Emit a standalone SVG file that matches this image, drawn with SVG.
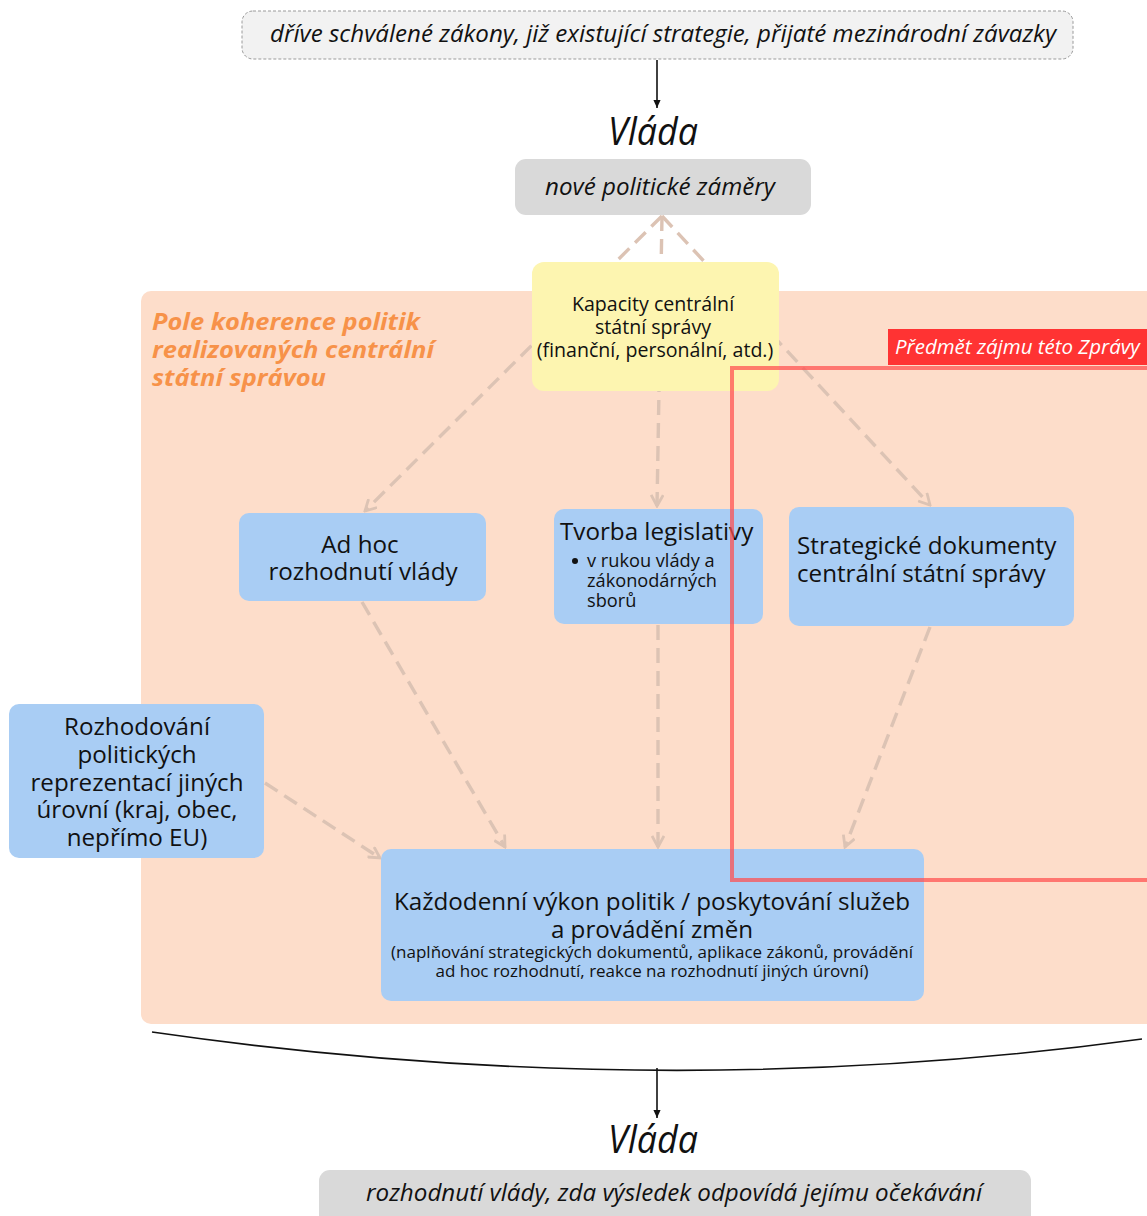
<svg xmlns="http://www.w3.org/2000/svg" width="1147" height="1216" viewBox="0 0 1147 1216">
<defs>
<style>
text{font-family:"Open Sans","Noto Sans","DejaVu Sans",sans-serif;fill:#111}
.it{font-style:italic}
.c{text-anchor:middle}
.blue{fill:#a9cdf4}
.t24{font-size:24.2px}
.t18{font-size:18.2px}
.t19{font-size:19.6px}
.t16{font-size:17px}
.dash{fill:none;stroke:#dcc3b4;stroke-width:3.4;stroke-dasharray:15 8}
.blk{fill:none;stroke:#111;stroke-width:1.6}
</style>
<marker id="ah" viewBox="0 0 14 14" refX="12" refY="7" markerWidth="14" markerHeight="14" markerUnits="userSpaceOnUse" orient="auto">
<path d="M1,1 L12,7 L1,13" fill="none" stroke="#dcc3b4" stroke-width="2.8"/>
</marker>
<marker id="bh" viewBox="0 0 10 10" refX="9" refY="5" markerWidth="9" markerHeight="9" markerUnits="userSpaceOnUse" orient="auto">
<path d="M0,1 L9,5 L0,9 Z" fill="#111"/>
</marker>
</defs>

<rect x="0" y="0" width="1147" height="1216" fill="#fff"/>

<g id="field">
<rect x="141" y="291" width="1020" height="733" rx="10" fill="#fdddca"/>
<text class="it" font-weight="bold" font-size="24" style="fill:#f79249">
<tspan x="152" y="330" textLength="268" lengthAdjust="spacingAndGlyphs">Pole koherence politik</tspan>
<tspan x="152" y="358" textLength="282" lengthAdjust="spacingAndGlyphs">realizovaných centrální</tspan>
<tspan x="152" y="386" textLength="174" lengthAdjust="spacingAndGlyphs">státní správou</tspan>
</text>
</g>

<g id="connectors">
<line class="blk" x1="657" y1="60" x2="657" y2="108" marker-end="url(#bh)"/>
<path class="dash" d="M662,216 L365,511" marker-end="url(#ah)"/>
<path class="dash" d="M662,216 L657,506" marker-end="url(#ah)"/>
<path class="dash" d="M662,216 L930,505" marker-end="url(#ah)"/>
<path class="dash" d="M362,602 L505,847" marker-end="url(#ah)"/>
<path class="dash" d="M658,625 L658,847" marker-end="url(#ah)"/>
<path class="dash" d="M930,627 L845,847" marker-end="url(#ah)"/>
<path class="dash" d="M265,783 L380,858" marker-end="url(#ah)"/>
<path class="blk" d="M152,1032 Q657,1105 1142,1039"/>
<line class="blk" x1="657" y1="1068" x2="657" y2="1118" marker-end="url(#bh)"/>
</g>

<g id="prior">
<rect x="242" y="11" width="831" height="48" rx="11" fill="#f2f2f2" stroke="#9a9a9a" stroke-width="1" stroke-dasharray="3 2"/>
<text class="it c" x="663" y="42" font-size="24" textLength="786" lengthAdjust="spacingAndGlyphs">dříve schválené zákony, již existující strategie, přijaté mezinárodní závazky</text>
</g>

<g id="vlada-top">
<text class="it c" x="653" y="145" font-size="38" textLength="90" lengthAdjust="spacingAndGlyphs">Vláda</text>
</g>

<g id="zamery">
<rect x="515" y="159" width="296" height="56" rx="11" fill="#d9d9d9"/>
<text class="it c" x="660" y="195" font-size="24" textLength="230" lengthAdjust="spacingAndGlyphs">nové politické záměry</text>
</g>

<g id="kapacity">
<rect x="532" y="262" width="247" height="129" rx="12" fill="#fdf5b0"/>
<text class="c t19" x="653" y="311">Kapacity centrální</text>
<text class="c t19" x="653" y="334">státní správy</text>
<text class="c t19" x="655" y="357">(finanční, personální, atd.)</text>
</g>

<g id="adhoc">
<rect class="blue" x="239" y="513" width="247" height="88" rx="10"/>
<text class="c t24" x="360" y="553">Ad hoc</text>
<text class="c t24" x="363" y="580">rozhodnutí vlády</text>
</g>

<g id="tvorba">
<rect class="blue" x="554" y="509" width="209" height="115" rx="10"/>
<text class="t24" x="560" y="540">Tvorba legislativy</text>
<circle cx="575" cy="561" r="3" fill="#111"/>
<text class="t18" x="587" y="567">v rukou vlády a</text>
<text class="t18" x="587" y="587">zákonodárných</text>
<text class="t18" x="587" y="607">sborů</text>
</g>

<g id="strategicke">
<rect class="blue" x="789" y="507" width="285" height="119" rx="10"/>
<text class="t24" x="797" y="554">Strategické dokumenty</text>
<text class="t24" x="797" y="582">centrální státní správy</text>
</g>

<g id="rozhodovani">
<rect class="blue" x="9" y="704" width="255" height="154" rx="10"/>
<text class="c t24" x="137" y="735">Rozhodování</text>
<text class="c t24" x="137" y="763">politických</text>
<text class="c t24" x="137" y="791">reprezentací jiných</text>
<text class="c t24" x="137" y="818">úrovní (kraj, obec,</text>
<text class="c t24" x="137" y="846">nepřímo EU)</text>
</g>

<g id="kazdodenni">
<rect class="blue" x="381" y="849" width="543" height="152" rx="10"/>
<text class="c t24" x="652" y="910">Každodenní výkon politik / poskytování služeb</text>
<text class="c t24" x="652" y="938">a provádění změn</text>
<text class="c t16" x="652" y="958">(naplňování strategických dokumentů, aplikace zákonů, provádění</text>
<text class="c t16" x="652" y="977">ad hoc rozhodnutí, reakce na rozhodnutí jiných úrovní)</text>
</g>

<g id="predmet">
<rect x="888" y="329" width="270" height="36" fill="#ff3333"/>
<text class="it" x="895" y="354" font-size="20.5" style="fill:#fff">Předmět zájmu této Zprávy</text>
<rect x="732" y="368" width="440" height="512" fill="none" stroke="#ff4d4d" stroke-opacity="0.72" stroke-width="4"/>
</g>

<g id="vlada-bottom">
<text class="it c" x="653" y="1153" font-size="38" textLength="90" lengthAdjust="spacingAndGlyphs">Vláda</text>
</g>

<g id="rozhodnuti">
<rect x="319" y="1170" width="712" height="60" rx="11" fill="#d9d9d9"/>
<text class="it c" x="674" y="1201" font-size="24" textLength="616" lengthAdjust="spacingAndGlyphs">rozhodnutí vlády, zda výsledek odpovídá jejímu očekávání</text>
</g>
</svg>
